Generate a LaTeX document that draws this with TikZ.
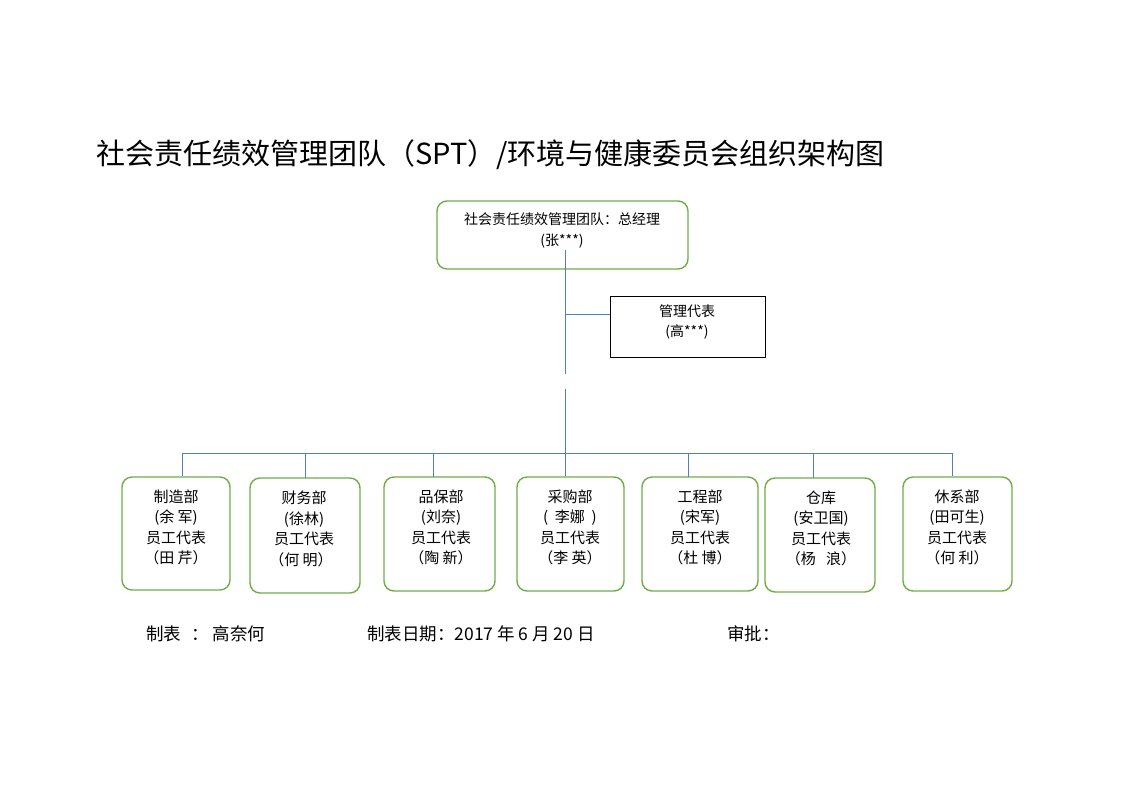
\documentclass[tikz,border=0pt]{standalone}
\usepackage{fontspec}
\setmainfont{Noto Sans CJK SC}
\definecolor{grn}{RGB}{112,173,71}
\definecolor{blu}{RGB}{79,129,189}
\begin{document}
\begin{tikzpicture}[x=1pt,y=-1pt,
  gbox/.style={draw=grn, line width=1.4pt, rounded corners=10pt, inner sep=0pt},
  kbox/.style={draw=black, line width=1pt, inner sep=0pt},
  txt/.style={align=center, inner sep=0pt, font=\fontsize{15}{20.5}\selectfont},
  foot/.style={anchor=west, inner sep=0pt, font=\fontsize{17.5}{20}\selectfont},
  conn/.style={draw=blu, line width=1pt}]
\useasboundingbox[fill=white] (0,0) rectangle (1122,793);
% title
\node[anchor=west, inner sep=0pt, font=\fontsize{29}{33}\selectfont] (title) at (96,155) {社会责任绩效管理团队（SPT）/环境与健康委员会组织架构图};
% top box
\node[gbox, minimum width=251pt, minimum height=68pt] (top) at (562.5,235) {};
\node[txt, font=\fontsize{14}{21}\selectfont] (toptxt) at (562,230) {社会责任绩效管理团队：总经理\\(张***)};
% management rep
\node[kbox, minimum width=155pt, minimum height=61pt] (mr) at (687.5,326.5) {};
\node[txt, font=\fontsize{14}{20}\selectfont] (mrtxt) at (687,322) {管理代表\\(高***)};
% connectors
\coordinate (v0) at (565,250);
\coordinate (vm) at (565,314);
\coordinate (v1) at (565,374);
\coordinate (v2) at (565,389);
\coordinate (bus) at (565,453);
\draw[conn] (v0) -- (v1);
\draw[conn] (v2) -- (bus);
\draw[conn] (vm) -- (vm -| mr.west);
% bottom boxes
\node[gbox, minimum width=108pt, minimum height=113pt] (b1) at (176,533.5) {};
\node[gbox, minimum width=110pt, minimum height=115pt] (b2) at (305,535.5) {};
\node[gbox, minimum width=111pt, minimum height=114pt] (b3) at (439.5,534) {};
\node[gbox, minimum width=107pt, minimum height=114pt] (b4) at (570.5,534) {};
\node[gbox, minimum width=116pt, minimum height=114pt] (b5) at (700,534) {};
\node[gbox, minimum width=110pt, minimum height=114pt] (b6) at (820,535) {};
\node[gbox, minimum width=109pt, minimum height=114pt] (b7) at (957.5,534) {};
\node[txt] (t1) at (176,527.5) {制造部\\(余\ 军)\\员工代表\\（田\ 芹）};
\node[txt] (t2) at (304,529) {财务部\\(徐林)\\员工代表\\（何\ 明）\hspace*{6pt}};
\node[txt] (t3) at (441,527.5) {品保部\\(刘奈)\\员工代表\\（陶\ 新）};
\node[txt] (t4) at (570,527.5) {采购部\\(\ \ 李娜\ \ )\\员工代表\\（李\ 英）};
\node[txt] (t5) at (700,527.5) {工程部\\(宋军)\\员工代表\\（杜\ 博）};
\node[txt] (t6) at (821,528.5) {仓库\\(安卫国)\\员工代表\\（杨\ \ \ 浪）};
\node[txt] (t7) at (957,527.5) {休系部\\(田可生)\\员工代表\\（何\ 利）};
% bus
\coordinate (busL) at (182,453);
\coordinate (busR) at (952,453);
\draw[conn] (busL) -- (busR);
\draw[conn] (busL) -- (busL |- b1.north);
\draw[conn] (305,453) -- (305,478);
\draw[conn] (433,453) -- (433,477);
\draw[conn] (bus) -- (bus |- b4.north);
\draw[conn] (688,453) -- (688,477);
\draw[conn] (813,453) -- (813,478);
\draw[conn] (busR) -- (busR |- b7.north);
% footer
\node[foot] (f1) at (146,634) {制表\hspace{10pt}：\hspace{4pt}高奈何};
\node[foot] (f2) at (367,634) {制表日期：2017\ 年\ 6\ 月\ 20\ 日};
\node[foot] (f3) at (727,634) {审批：};
\end{tikzpicture}
\end{document}
